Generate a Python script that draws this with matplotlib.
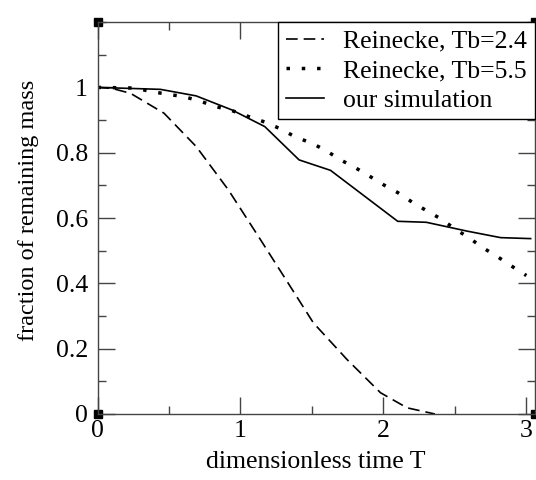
import numpy as np
import matplotlib
matplotlib.use('Agg')
import matplotlib.pyplot as plt
from matplotlib.ticker import MultipleLocator

plt.rcParams['font.family'] = ['Liberation Serif', 'DejaVu Serif']
plt.rcParams['font.size'] = 18.5

# Reinecke, Tb=2.4 (dashed)
t_24 = [0.0, 0.1, 0.23, 0.465, 0.69, 0.914, 1.125, 1.32, 1.51, 1.745, 1.98, 2.165, 2.36]
f_24 = [1.0, 0.997, 0.982, 0.921, 0.819, 0.687, 0.544, 0.41, 0.279, 0.167, 0.065, 0.019, 0.0]

# Reinecke, Tb=5.5 (dotted)
t_55 = [0.0, 0.26, 0.38, 0.49, 0.60, 0.71, 0.83, 0.94, 1.055, 1.17, 1.28, 1.385, 1.50,
        1.60, 1.70, 1.80, 1.90, 2.00, 2.10, 2.20, 2.30, 2.40, 2.50, 2.60, 2.70, 2.80,
        2.90, 3.00]
f_55 = [1.0, 0.998, 0.987, 0.979, 0.972, 0.959, 0.941, 0.929, 0.911, 0.894, 0.873, 0.848,
        0.829, 0.806, 0.778, 0.755, 0.729, 0.702, 0.678, 0.649, 0.623, 0.598, 0.567, 0.539,
        0.508, 0.481, 0.452, 0.424]

# our simulation (solid)
t_sim = [0.0, 0.44, 0.69, 0.94, 1.17, 1.41, 1.63, 2.10, 2.30, 2.585, 2.82, 3.03]
f_sim = [1.0, 0.994, 0.974, 0.931, 0.88, 0.778, 0.746, 0.59, 0.587, 0.56, 0.54, 0.537]

fig = plt.figure(figsize=(5.36, 4.80), dpi=100)
ax = fig.add_axes([0.182, 0.1375, 0.816, 0.8165])

ax.plot(t_24, f_24, color='black', lw=1.2, ls=(0, (7, 3.6)), label='Reinecke, Tb=2.4')
ax.plot(t_55, f_55, color='black', lw=2.5, ls=(0, (1, 3.4)), label='Reinecke, Tb=5.5')
ax.plot(t_sim, f_sim, color='black', lw=1.2, label='our simulation')

ax.set_xlim(0, 3.06)
ax.set_ylim(0, 1.2)
ax.xaxis.set_minor_locator(MultipleLocator(0.5))
ax.yaxis.set_minor_locator(MultipleLocator(0.1))
ax.set_yticks([0, 0.2, 0.4, 0.6, 0.8, 1.0])
ax.set_yticklabels(['0', '0.2', '0.4', '0.6', '0.8', '1'])
ax.set_xticks([0, 1, 2, 3])
ax.set_xticklabels(['0', '1', '2', '3'])

ax.tick_params(which='both', direction='in', top=True, right=True, color='#444444')
ax.tick_params(which='major', length=12, width=1, pad=4)
ax.tick_params(which='minor', length=6, width=1)
ax.tick_params(axis='y', pad=7)
for sp in ax.spines.values():
    sp.set_color('#444444')
    sp.set_linewidth(1)

ax.set_xlabel('dimensionless time T', labelpad=7)
ax.set_ylabel('fraction of remaining mass', fontsize=17.5)
ax.yaxis.set_label_coords(-0.135, 0.52)

# corner markers
ax.plot([0, 1, 0, 1], [0, 0, 1, 1], 's', color='black', ms=6,
        transform=ax.transAxes, clip_on=False)

leg = ax.legend(loc='upper right', borderaxespad=0, fancybox=False,
                edgecolor='black', framealpha=1, handlelength=1.5,
                handletextpad=0.75, labelspacing=0.25, borderpad=0.3)
leg.get_frame().set_linewidth(1)

fig.savefig('out.png', dpi=100)
